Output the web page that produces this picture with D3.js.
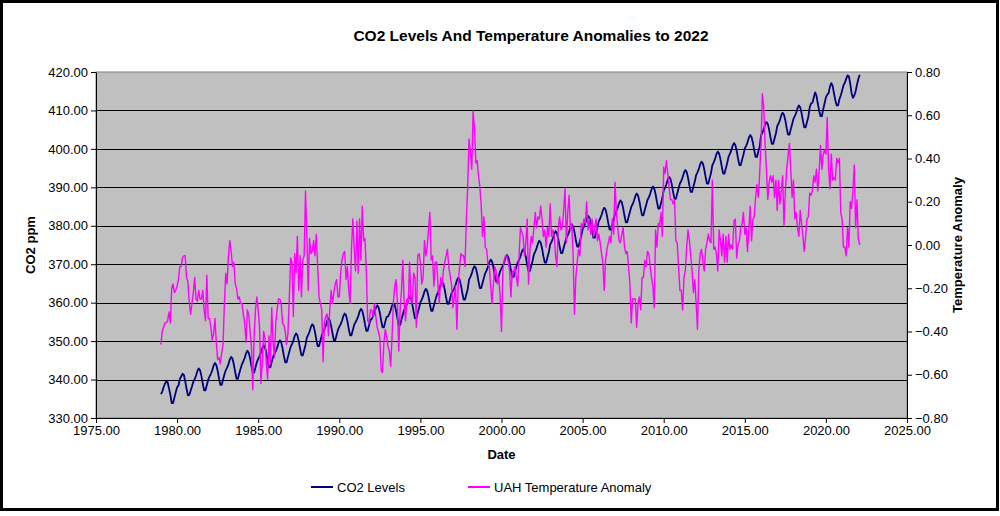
<!DOCTYPE html>
<html><head><meta charset="utf-8">
<script src="https://cdn.jsdelivr.net/npm/d3@7"></script>
<style>body{margin:0;background:#fff}svg{display:block}text{font-family:"Liberation Sans",Arial,sans-serif}</style>
</head><body><svg id="c" width="1000" height="516"></svg>
<script>
// Monthly values, January 1979 to February 2022
const co2Levels = [
336.2,336.8,338.0,338.9,339.5,339.3,337.7,336.1,333.9,333.9,335.3,336.7,
338.0,338.4,340.1,340.8,341.5,341.2,339.6,337.6,335.9,336.0,337.1,338.2,
339.4,340.1,341.0,342.2,342.9,342.4,340.9,338.9,337.2,337.2,338.6,339.9,
340.8,341.5,342.4,343.6,344.3,343.8,342.3,340.3,338.6,338.6,340.0,341.3,
342.4,343.1,344.0,345.2,345.9,345.4,343.9,341.9,340.2,340.2,341.6,342.9,
344.0,344.7,345.6,346.8,347.5,347.0,345.5,343.5,341.8,341.8,343.2,344.5,
345.4,346.1,347.0,348.2,348.9,348.4,346.9,344.9,343.2,343.2,344.6,345.9,
346.7,347.4,348.3,349.5,350.2,349.7,348.2,346.2,344.5,344.5,345.9,347.2,
348.5,349.2,350.1,351.3,352.0,351.5,350.0,348.0,346.3,346.3,347.7,349.0,
350.9,351.6,352.5,353.7,354.4,353.9,352.4,350.4,348.7,348.7,350.1,351.4,
352.4,353.1,354.0,355.2,355.9,355.4,353.9,351.9,350.2,350.2,351.6,352.9,
353.7,354.4,355.3,356.5,357.2,356.7,355.2,353.2,351.5,351.5,352.9,354.2,
354.9,355.6,356.5,357.7,358.4,357.9,356.4,354.4,352.7,352.7,354.1,355.4,
355.8,356.5,357.4,358.6,359.3,358.8,357.3,355.3,353.6,353.6,355.0,356.3,
356.4,357.1,358.0,359.2,359.9,359.4,357.9,355.9,354.2,354.2,355.6,356.9,
358.1,358.8,359.7,360.9,361.6,361.1,359.6,357.6,355.9,355.9,357.3,358.6,
360.1,360.8,361.7,362.9,363.6,363.1,361.6,359.6,357.9,357.9,359.3,360.6,
361.9,362.6,363.5,364.7,365.4,364.9,363.4,361.4,359.7,359.7,361.1,362.4,
363.0,363.7,364.6,365.8,366.5,366.0,364.5,362.5,360.8,360.8,362.2,363.5,
366.0,366.7,367.6,368.8,369.5,369.0,367.5,365.5,363.8,363.8,365.2,366.5,
367.7,368.4,369.3,370.5,371.2,370.7,369.2,367.2,365.5,365.5,366.9,368.2,
368.9,369.6,370.5,371.7,372.4,371.9,370.4,368.4,366.7,366.7,368.1,369.4,
370.4,371.1,372.0,373.2,373.9,373.4,371.9,369.9,368.2,368.2,369.6,370.9,
372.6,373.3,374.2,375.4,376.1,375.6,374.1,372.1,370.4,370.4,371.8,373.1,
375.1,375.8,376.7,377.9,378.6,378.1,376.6,374.6,372.9,372.9,374.3,375.6,
376.8,377.5,378.4,379.6,380.3,379.8,378.3,376.3,374.6,374.6,376.0,377.3,
379.1,379.8,380.7,381.9,382.6,382.1,380.6,378.6,376.9,376.9,378.3,379.6,
381.2,381.9,382.8,384.0,384.7,384.2,382.7,380.7,379.0,379.0,380.4,381.7,
383.1,383.8,384.7,385.9,386.6,386.1,384.6,382.6,380.9,380.9,382.3,383.6,
384.9,385.6,386.5,387.7,388.4,387.9,386.4,384.4,382.7,382.7,384.1,385.4,
386.7,387.4,388.3,389.5,390.2,389.7,388.2,386.2,384.5,384.5,385.9,387.2,
389.2,389.9,390.8,392.0,392.7,392.2,390.7,388.7,387.0,387.0,388.4,389.7,
391.0,391.7,392.6,393.8,394.5,394.0,392.5,390.5,388.8,388.8,390.2,391.5,
393.2,393.9,394.8,396.0,396.7,396.2,394.7,392.7,391.0,391.0,392.4,393.7,
395.8,396.5,397.4,398.6,399.3,398.8,397.3,395.3,393.6,393.6,395.0,396.3,
398.0,398.7,399.6,400.8,401.5,401.0,399.5,397.5,395.8,395.8,397.2,398.5,
400.1,400.8,401.7,402.9,403.6,403.1,401.6,399.6,397.9,397.9,399.3,400.6,
403.5,404.2,405.1,406.3,407.0,406.5,405.0,403.0,401.3,401.3,402.7,404.0,
405.9,406.6,407.5,408.7,409.4,408.9,407.4,405.4,403.7,403.7,405.1,406.4,
407.8,408.5,409.4,410.6,411.3,410.8,409.3,407.3,405.6,405.6,407.0,408.3,
410.8,411.8,412.0,413.3,414.7,413.9,411.8,410.0,408.5,408.5,410.3,411.8,
413.4,414.1,414.5,416.2,417.1,416.4,414.4,412.6,411.3,411.3,412.9,413.9,
415.2,416.5,417.2,418.2,419.1,418.9,417.0,414.5,413.3,413.9,415.0,416.7,
418.2,419.3
];
const uahAnomaly = [
-0.46,-0.40,-0.38,-0.36,-0.36,-0.35,-0.31,-0.36,-0.20,-0.18,-0.22,-0.21,
-0.19,-0.16,-0.10,-0.10,-0.06,-0.05,-0.05,-0.15,-0.17,-0.27,-0.32,-0.27,
-0.22,-0.15,-0.25,-0.26,-0.21,-0.25,-0.25,-0.21,-0.30,-0.35,-0.14,-0.34,
-0.34,-0.38,-0.44,-0.41,-0.34,-0.45,-0.53,-0.52,-0.55,-0.50,-0.46,-0.27,
-0.13,-0.18,-0.05,0.02,-0.03,-0.10,-0.08,-0.18,-0.20,-0.25,-0.24,-0.27,
-0.27,-0.32,-0.36,-0.45,-0.30,-0.32,-0.40,-0.47,-0.67,-0.42,-0.30,-0.24,
-0.30,-0.38,-0.64,-0.55,-0.40,-0.43,-0.55,-0.62,-0.42,-0.55,-0.29,-0.45,
-0.52,-0.36,-0.30,-0.25,-0.25,-0.27,-0.36,-0.37,-0.40,-0.46,-0.41,-0.25,
-0.06,-0.08,-0.33,-0.04,-0.13,0.04,-0.21,-0.05,-0.24,-0.07,-0.05,0.25,
0.05,-0.21,0.03,-0.04,-0.03,0.02,-0.05,0.05,-0.10,-0.24,-0.27,-0.30,
-0.54,-0.36,-0.33,-0.32,-0.42,-0.29,-0.21,-0.27,-0.22,-0.18,-0.16,-0.24,
-0.24,-0.13,-0.07,-0.04,-0.03,-0.16,-0.10,-0.21,-0.27,-0.02,0.12,-0.01,
-0.12,0.11,-0.13,0.12,-0.07,0.18,0.02,0.03,-0.12,-0.35,-0.36,-0.30,
-0.30,-0.33,-0.27,-0.33,-0.38,-0.40,-0.43,-0.58,-0.59,-0.45,-0.39,-0.42,
-0.47,-0.49,-0.56,-0.43,-0.27,-0.19,-0.16,-0.27,-0.49,-0.30,-0.21,-0.07,
-0.27,-0.35,-0.25,-0.27,-0.08,-0.25,-0.27,-0.13,-0.15,-0.38,-0.05,-0.04,
-0.08,-0.18,-0.15,0.02,-0.05,-0.01,0.07,0.15,-0.07,-0.05,-0.19,-0.08,
-0.08,-0.18,-0.27,-0.15,-0.19,-0.12,-0.08,-0.05,-0.02,-0.10,-0.14,-0.18,
-0.29,-0.25,-0.19,-0.39,-0.18,-0.10,-0.04,-0.05,-0.05,-0.10,0.12,0.27,
0.49,0.43,0.35,0.62,0.54,0.38,0.39,0.32,0.27,0.18,0.04,0.13,
-0.01,-0.02,-0.09,-0.10,-0.19,-0.27,-0.18,-0.10,-0.12,-0.18,-0.15,-0.24,
-0.40,-0.12,-0.07,-0.05,-0.05,-0.08,-0.12,-0.24,-0.12,-0.13,-0.10,-0.15,
-0.19,-0.05,0.08,0.06,0.04,-0.05,0.01,0.12,-0.18,-0.02,0.04,0.01,
0.08,0.15,0.08,0.13,0.12,0.18,0.12,0.04,0.07,-0.01,0.08,0.04,
0.19,0.04,0.07,0.04,-0.05,-0.10,0.08,0.13,0.07,0.08,0.16,0.26,
0.01,0.15,0.23,0.07,0.10,-0.05,-0.32,-0.15,-0.08,-0.02,-0.05,0.10,
0.08,0.12,0.10,0.20,0.07,0.12,0.05,0.12,0.04,0.08,0.12,0.02,
0.05,0.01,-0.04,-0.08,-0.21,-0.07,-0.02,0.01,0.04,0.01,0.12,0.05,
0.29,0.15,0.08,0.02,0.01,0.05,0.08,-0.01,-0.04,-0.03,-0.10,-0.18,
-0.36,-0.25,-0.25,-0.25,-0.38,-0.27,-0.24,-0.30,-0.15,-0.15,-0.07,-0.10,
-0.03,-0.04,-0.10,-0.15,-0.19,-0.29,0.07,-0.01,0.10,0.09,0.15,0.04,
0.36,0.33,0.39,0.33,0.27,0.21,0.21,0.19,0.21,0.02,0.01,-0.10,
-0.21,-0.21,-0.30,-0.15,-0.12,-0.01,0.07,0.02,-0.05,-0.12,-0.22,-0.16,
-0.27,-0.39,-0.12,-0.04,-0.02,-0.08,-0.12,-0.02,0.01,0.05,0.02,0.01,
0.30,-0.02,-0.01,-0.04,-0.12,0.07,0.02,-0.05,0.05,-0.08,0.04,-0.08,
0.05,-0.02,0.00,-0.02,0.11,0.12,-0.06,0.00,0.02,0.08,0.10,0.15,
0.05,0.08,-0.03,0.07,0.18,0.02,0.12,0.13,0.22,0.28,0.22,0.33,
0.47,0.70,0.64,0.47,0.35,0.21,0.29,0.32,0.29,0.32,0.22,0.30,
0.16,0.30,0.19,0.25,0.32,0.09,0.25,0.35,0.41,0.47,0.35,0.22,
0.30,0.12,0.15,0.08,0.04,0.16,0.10,0.04,-0.03,0.04,0.12,0.13,
0.24,0.23,0.25,0.32,0.29,0.35,0.25,0.34,0.46,0.35,0.42,0.44,
0.42,0.59,0.35,0.26,0.42,0.30,0.31,0.30,0.40,0.38,0.40,0.15,
0.12,-0.01,-0.01,-0.05,0.08,-0.01,0.20,0.17,0.25,0.37,0.08,0.21,
0.03,0.00
];
const startYear = 1979;
const yearTicks = [1975,1980,1985,1990,1995,2000,2005,2010,2015,2020,2025];
const co2Ticks = [330,340,350,360,370,380,390,400,410,420];
const anomalyTicks = [-0.8,-0.6,-0.4,-0.2,0,0.2,0.4,0.6,0.8];
const titleText = "CO2 Levels And Temperature Anomalies to 2022";
const seriesNames = ["CO2 Levels","UAH Temperature Anomaly"];
const seriesColors = ["#000080","#ff00ff"];

const svg = d3.select("#c");
const P = {l:96, r:907, t:72, b:418};
const FONT = '"Liberation Sans",Arial,sans-serif';

svg.append("rect").attr("width",1000).attr("height",516).attr("fill","#fff");
svg.append("rect").attr("x",1.5).attr("y",1.5).attr("width",996).attr("height",508)
  .attr("fill","none").attr("stroke","#000").attr("stroke-width",3);

const x = d3.scaleLinear().domain([1975,2025]).range([P.l,P.r]);
const yL = d3.scaleLinear().domain([330,420]).range([P.b,P.t]);
const yR = d3.scaleLinear().domain([-0.8,0.8]).range([P.b,P.t]);

svg.append("rect").attr("x",P.l).attr("y",P.t).attr("width",P.r-P.l).attr("height",P.b-P.t)
  .attr("fill","#c0c0c0").attr("stroke","#808080").attr("stroke-width",1);

svg.append("g").selectAll("line").data(co2Ticks.slice(1,-1)).join("line")
  .attr("x1",P.l).attr("x2",P.r).attr("y1",d=>Math.round(yL(d))+0.5).attr("y2",d=>Math.round(yL(d))+0.5)
  .attr("stroke","#000").attr("stroke-width",1);

const dateOf = i => startYear + i/12;
const co2Line = d3.line().x((d,i)=>x(dateOf(i))).y(d=>yL(d));
const uahLine = d3.line().x((d,i)=>x(dateOf(i))).y(d=>yR(d));

svg.append("path").datum(co2Levels).attr("d",co2Line).attr("fill","none")
  .attr("stroke",seriesColors[0]).attr("stroke-width",1.8).attr("stroke-linejoin","round");
svg.append("path").datum(uahAnomaly).attr("d",uahLine).attr("fill","none")
  .attr("stroke",seriesColors[1]).attr("stroke-width",1.4).attr("stroke-linejoin","round");

function styleAxis(g){
  g.attr("font-family",FONT).attr("font-size",13);
  g.selectAll("path.domain").attr("stroke","#000");
  g.selectAll(".tick line").attr("stroke","#000");
  g.selectAll(".tick text").attr("fill","#000");
}
svg.append("g").attr("transform",`translate(${P.l},0)`)
  .call(d3.axisLeft(yL).tickValues(co2Ticks).tickFormat(d3.format(".2f")).tickSizeInner(5).tickSizeOuter(0).tickPadding(3))
  .call(styleAxis);
svg.append("g").attr("transform",`translate(${P.r},0)`)
  .call(d3.axisRight(yR).tickValues(anomalyTicks).tickFormat(d3.format(".2f")).tickSizeInner(5).tickSizeOuter(0).tickPadding(3))
  .call(styleAxis);
svg.append("g").attr("transform",`translate(0,${P.b})`)
  .call(d3.axisBottom(x).tickValues(yearTicks).tickFormat(d3.format(".2f")).tickSizeInner(5).tickSizeOuter(0).tickPadding(3))
  .call(styleAxis);

svg.append("text").attr("x",531).attr("y",41).attr("text-anchor","middle")
  .attr("font-family",FONT).attr("font-weight","bold").attr("font-size",15.5).text(titleText);
svg.append("text").attr("x",(P.l+P.r)/2).attr("y",459).attr("text-anchor","middle")
  .attr("font-family",FONT).attr("font-weight","bold").attr("font-size",13).text("Date");
svg.append("text").attr("transform",`translate(35,${(P.t+P.b)/2}) rotate(-90)`).attr("text-anchor","middle")
  .attr("font-family",FONT).attr("font-weight","bold").attr("font-size",13).text("CO2 ppm");
svg.append("text").attr("transform",`translate(962,${(P.t+P.b)/2}) rotate(-90)`).attr("text-anchor","middle")
  .attr("font-family",FONT).attr("font-weight","bold").attr("font-size",13).text("Temperature Anomaly");

const legendX = [311, 468];
const lg = svg.append("g").selectAll("g").data(seriesNames).join("g")
  .attr("transform",(d,i)=>`translate(${legendX[i]},487)`);
lg.append("line").attr("x1",0).attr("x2",22).attr("y1",0).attr("y2",0)
  .attr("stroke",(d,i)=>seriesColors[i]).attr("stroke-width",2);
lg.append("text").attr("x",26).attr("y",4.5).attr("font-family",FONT).attr("font-size",13).text(d=>d);
</script></body></html>
